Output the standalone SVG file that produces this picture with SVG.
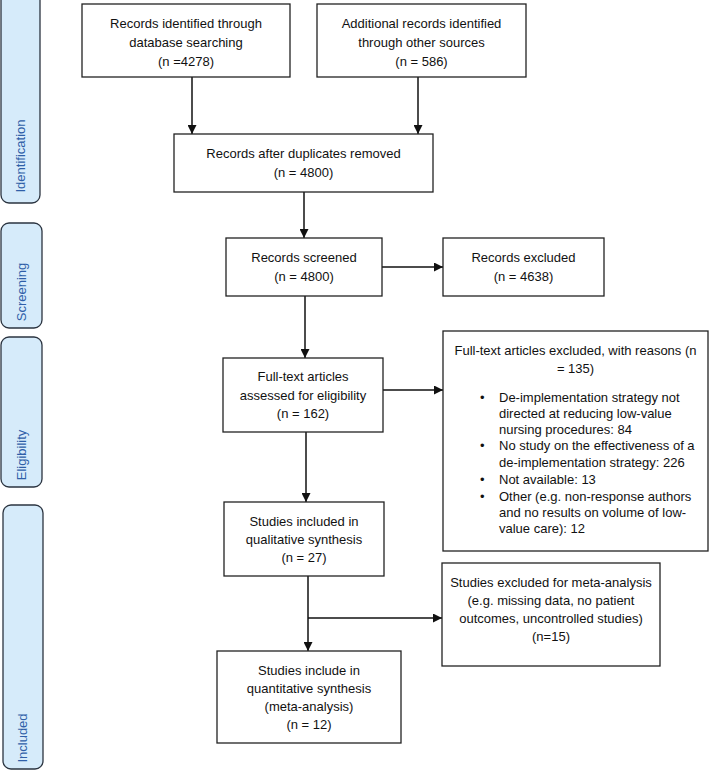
<svg xmlns="http://www.w3.org/2000/svg" width="709" height="770" viewBox="0 0 709 770">
<style>
.box{fill:#fff;stroke:#222;stroke-width:1.3}
.side{fill:#d6ebfa;stroke:#2b3440;stroke-width:1.3}
.t{font-family:"Liberation Sans",Arial,sans-serif;font-size:13px;fill:#111;text-anchor:middle}
.tl{font-family:"Liberation Sans",Arial,sans-serif;font-size:13px;fill:#111}
.st{font-family:"Liberation Sans",Arial,sans-serif;font-size:13px;fill:#2f5fa8;text-anchor:middle}
.c{stroke:#111;stroke-width:1.5;fill:none}
</style>
<defs>
<marker id="ah" viewBox="0 0 10 10" refX="10" refY="5" markerWidth="9" markerHeight="9" markerUnits="userSpaceOnUse" orient="auto">
<path d="M0,0 L10,5 L0,10 z" fill="#111"/>
</marker>
</defs>
<g id="side-identification"><rect class="side" x="1" y="-10" width="39" height="213" rx="8"/><text class="st" transform="translate(25,156) rotate(-90)">Identification</text></g>
<g id="side-screening"><rect class="side" x="1" y="223" width="41" height="105" rx="8"/><text class="st" transform="translate(26,292) rotate(-90)">Screening</text></g>
<g id="side-eligibility"><rect class="side" x="1" y="337" width="41" height="150" rx="8"/><text class="st" transform="translate(26,455) rotate(-90)">Eligibility</text></g>
<g id="side-included"><rect class="side" x="3" y="505" width="40" height="264" rx="8"/><text class="st" transform="translate(27,738) rotate(-90)">Included</text></g>

<g id="connectors">
<line class="c" x1="192" y1="77" x2="192" y2="134" marker-end="url(#ah)"/>
<line class="c" x1="418" y1="77" x2="418" y2="134" marker-end="url(#ah)"/>
<line class="c" x1="304" y1="192" x2="304" y2="238" marker-end="url(#ah)"/>
<line class="c" x1="382" y1="267" x2="443" y2="267" marker-end="url(#ah)"/>
<line class="c" x1="305" y1="296" x2="305" y2="358" marker-end="url(#ah)"/>
<line class="c" x1="383" y1="390" x2="443" y2="390" marker-end="url(#ah)"/>
<line class="c" x1="306" y1="432" x2="306" y2="502" marker-end="url(#ah)"/>
<line class="c" x1="308" y1="576" x2="308" y2="651" marker-end="url(#ah)"/>
<line class="c" x1="308" y1="618" x2="442" y2="618" marker-end="url(#ah)"/>
</g>

<g id="n-db"><rect class="box" x="82" y="4" width="208" height="73"/>
<text class="t" x="186" y="28">Records identified through</text>
<text class="t" x="186" y="47">database searching</text>
<text class="t" x="186" y="66">(n =4278)</text></g>
<g id="n-other"><rect class="box" x="317" y="4" width="209" height="73"/>
<text class="t" x="421.5" y="28">Additional records identified</text>
<text class="t" x="421.5" y="47">through other sources</text>
<text class="t" x="421.5" y="66">(n = 586)</text></g>
<g id="n-dup"><rect class="box" x="174" y="134" width="259" height="58"/>
<text class="t" x="303.5" y="158">Records after duplicates removed</text>
<text class="t" x="303.5" y="177">(n = 4800)</text></g>
<g id="n-screened"><rect class="box" x="226" y="238" width="156" height="58"/>
<text class="t" x="304" y="262">Records screened</text>
<text class="t" x="304" y="281">(n = 4800)</text></g>
<g id="n-excluded"><rect class="box" x="443" y="238" width="161" height="58"/>
<text class="t" x="523.5" y="262">Records excluded</text>
<text class="t" x="523.5" y="281">(n = 4638)</text></g>
<g id="n-fulltext"><rect class="box" x="223" y="358" width="160" height="74"/>
<text class="t" x="303" y="381">Full-text articles</text>
<text class="t" x="303" y="400">assessed for eligibility</text>
<text class="t" x="303" y="418">(n = 162)</text></g>
<g id="n-ftexcluded"><rect class="box" x="443" y="331" width="265" height="220"/>
<text class="t" x="575.5" y="355">Full-text articles excluded, with reasons (n</text>
<text class="t" x="575.5" y="373">= 135)</text>
<text class="tl" x="480" y="402">•</text><text class="tl" x="499" y="402">De-implementation strategy not</text>
<text class="tl" x="499" y="418">directed at reducing low-value</text>
<text class="tl" x="499" y="434">nursing procedures: 84</text>
<text class="tl" x="480" y="450">•</text><text class="tl" x="499" y="450">No study on the effectiveness of a</text>
<text class="tl" x="499" y="467">de-implementation strategy: 226</text>
<text class="tl" x="480" y="484">•</text><text class="tl" x="499" y="484">Not available: 13</text>
<text class="tl" x="480" y="501">•</text><text class="tl" x="499" y="501">Other (e.g. non-response authors</text>
<text class="tl" x="499" y="517">and no results on volume of low-</text>
<text class="tl" x="499" y="533">value care): 12</text></g>
<g id="n-qual"><rect class="box" x="224" y="502" width="160" height="74"/>
<text class="t" x="304" y="526">Studies included in</text>
<text class="t" x="304" y="544">qualitative synthesis</text>
<text class="t" x="304" y="562">(n = 27)</text></g>
<g id="n-metaexcl"><rect class="box" x="442" y="563" width="218" height="103"/>
<text class="t" x="551" y="587">Studies excluded for meta-analysis</text>
<text class="t" x="551" y="605">(e.g. missing data, no patient</text>
<text class="t" x="551" y="623">outcomes, uncontrolled studies)</text>
<text class="t" x="551" y="641">(n=15)</text></g>
<g id="n-quant"><rect class="box" x="217" y="651" width="184" height="92"/>
<text class="t" x="309" y="675">Studies include in</text>
<text class="t" x="309" y="693">quantitative synthesis</text>
<text class="t" x="309" y="711">(meta-analysis)</text>
<text class="t" x="309" y="729">(n = 12)</text></g>
</svg>
